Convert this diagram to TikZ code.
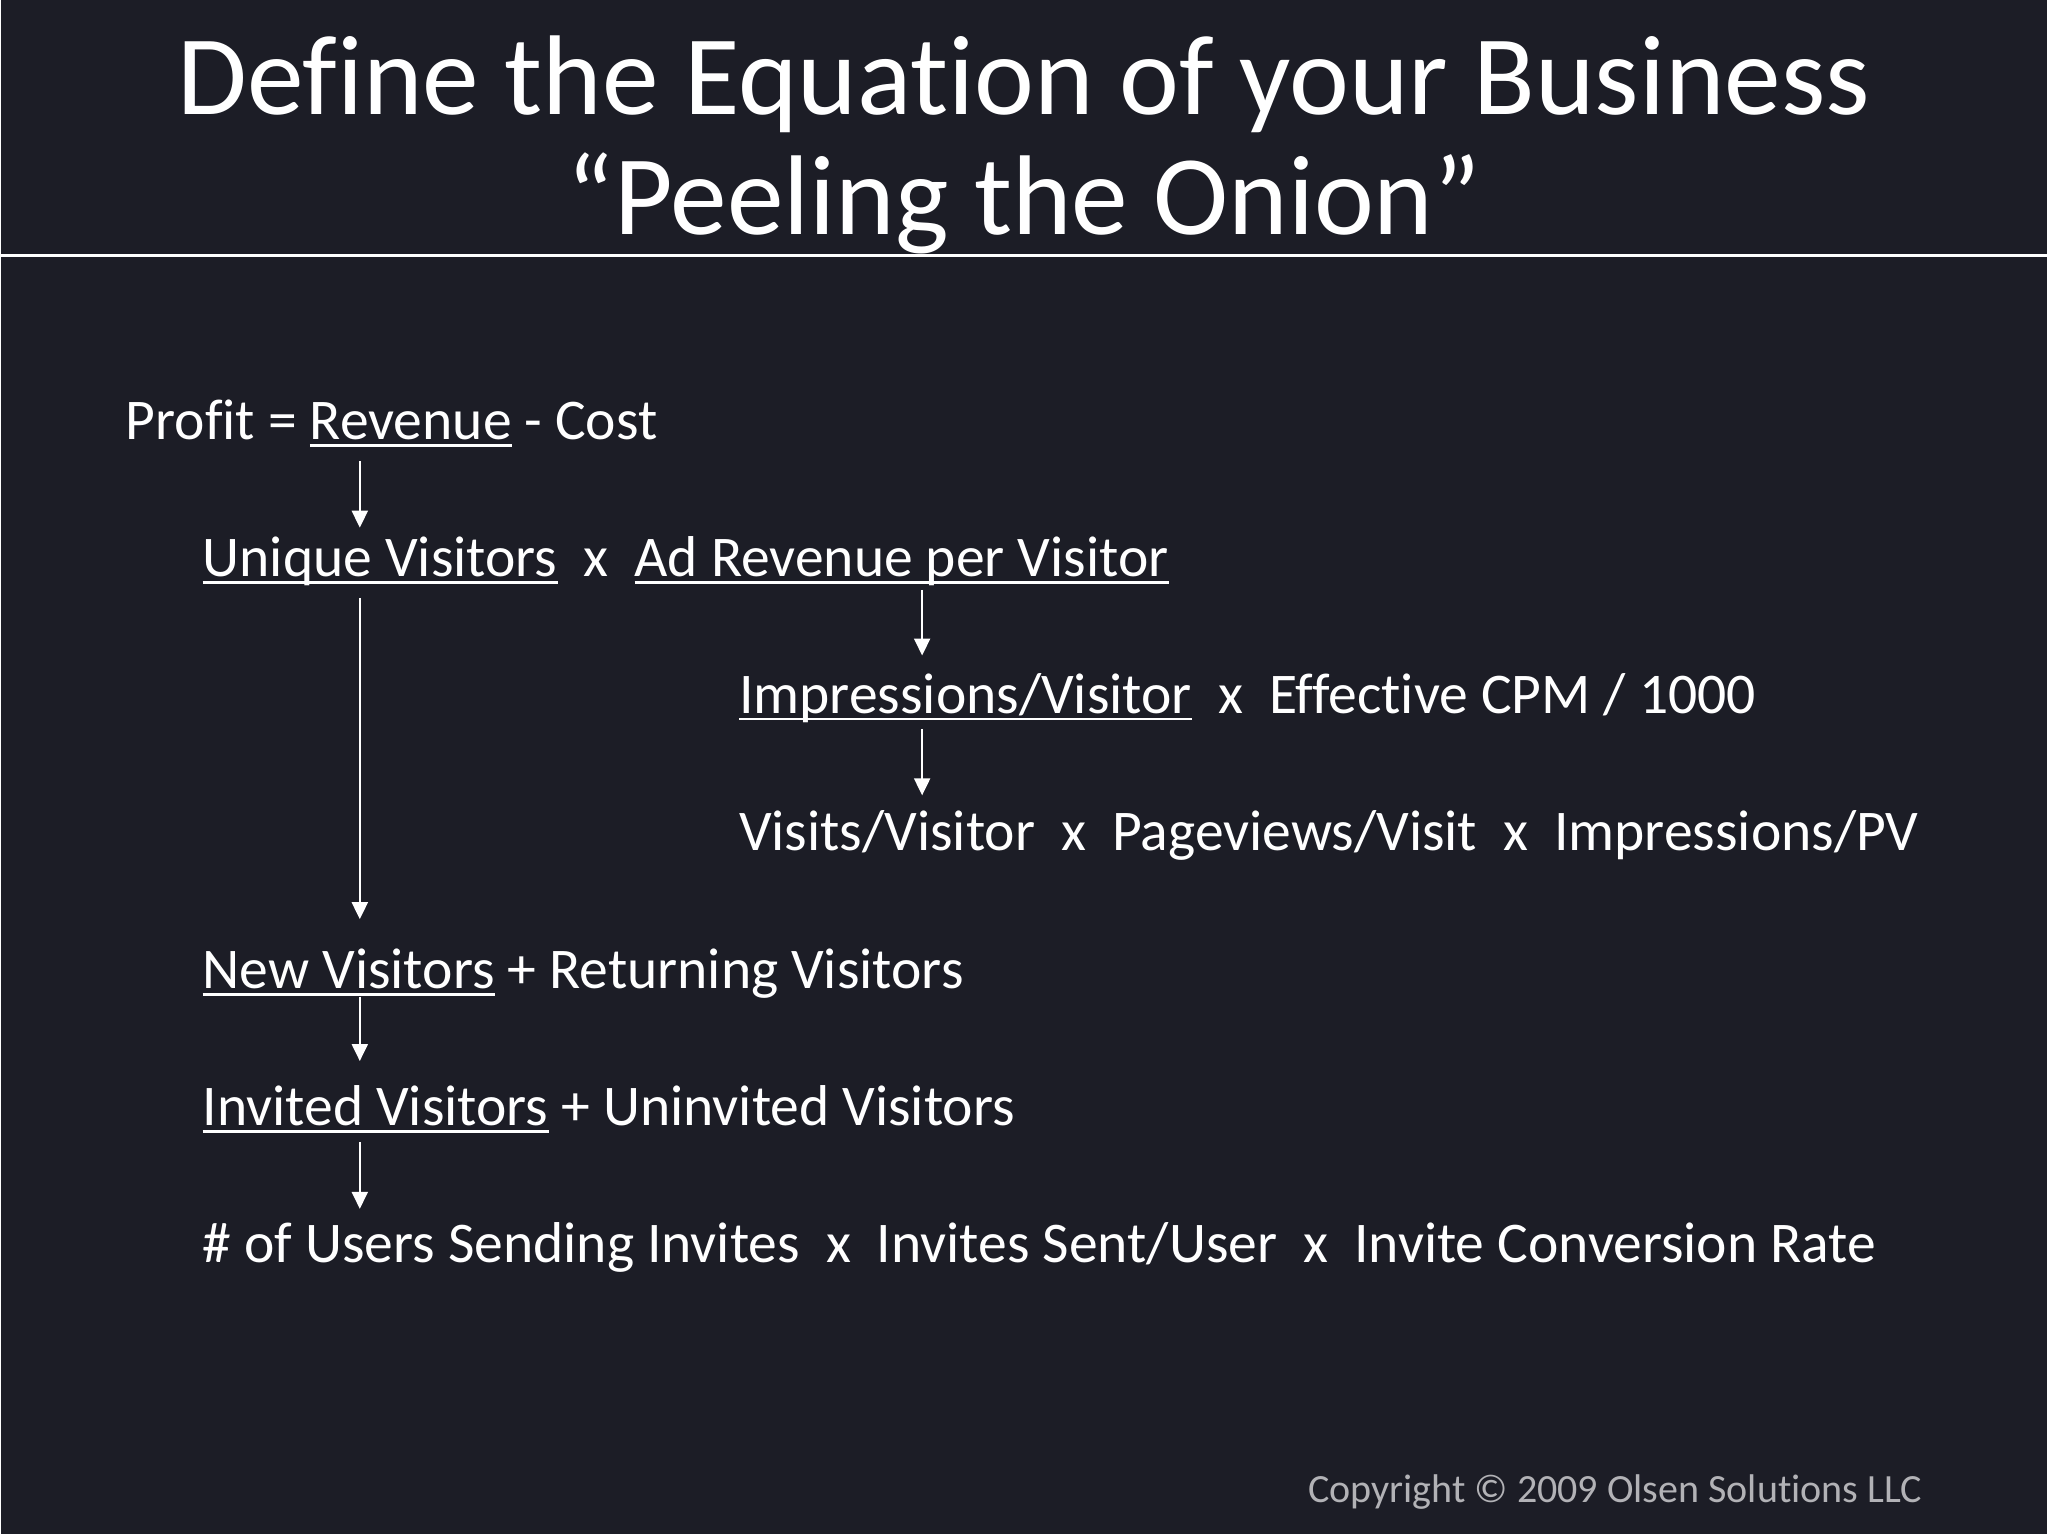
\documentclass[tikz,border=0pt]{standalone}
\usepackage{fontspec}
\setmainfont{Carlito}[Ligatures={NoCommon}]
\usetikzlibrary{arrows.meta}

\definecolor{slidebg}{RGB}{28,29,38}
\definecolor{copygray}{RGB}{178,178,182}

\newsavebox{\ulbox}
\newcommand{\ulword}[1]{\sbox{\ulbox}{#1}\rlap{\rule[-0.125em]{\wd\ulbox}{0.045em}}\usebox{\ulbox}}

\begin{document}
\begin{tikzpicture}[x=1cm,y=1cm,
  every node/.style={text=white, inner sep=0pt},
  title/.style={font=\fontsize{32.3pt}{38pt}\selectfont, anchor=base},
  eq/.style={font=\fontsize{16.4pt}{20pt}\selectfont, anchor=base west, text height=0.39cm, text depth=0.07cm},
  copy/.style={font=\fontsize{11.4pt}{13pt}\selectfont, anchor=base east, text=copygray},
  flow/.style={white, line width=0.6pt, -{Triangle[length=0.17cm,width=0.16cm]}}]
\fill[slidebg] (0,0) rectangle (20.48,-15.36);

\node[title] (T1) at (10.24,-1.15) {Define the Equation of your Business};
\node[title] (T2) at (10.24,-2.35) {“Peeling the Onion”};
\draw[white, line width=0.025cm] (0,-2.56) -- (20.48,-2.56);

\node[eq] (profit) at (1.24,-4.40) {Profit = \ulword{Revenue} - Cost};
\node[eq] (unique) at (2.01,-5.77) {\ulword{Unique Visitors}~~x~~\ulword{Ad Revenue per Visitor}};
\node[eq] (impr) at (7.38,-7.14) {\ulword{Impressions/Visitor}~~x~~Effective CPM / 1000};
\node[eq] (visits) at (7.38,-8.52) {Visits/Visitor~~x~~Pageviews/Visit~~x~~Impressions/PV};
\node[eq] (new) at (2.01,-9.90) {\ulword{New Visitors} + Returning Visitors};
\node[eq] (invited) at (2.01,-11.27) {\ulword{Invited Visitors} + Uninvited Visitors};
\node[eq] (users) at (2.01,-12.64) {\# of Users Sending Invites~~x~~Invites Sent/User~~x~~Invite Conversion Rate};
\node[copy] (copyright) at (19.24,-15.04) {Copyright © 2009 Olsen Solutions LLC};

\coordinate (colA) at (3.59,0);
\coordinate (colB) at (9.22,0);

\draw[flow, shorten <=0.14cm, shorten >=0.09cm] (profit.south -| colA) -- (unique.north -| colA);
\draw[flow, shorten <=0.14cm, shorten >=0.30cm] (unique.south -| colA) -- (new.north -| colA);
\draw[flow, shorten <=0.06cm, shorten >=0.18cm] (unique.south -| colB) -- (impr.north -| colB);
\draw[flow, shorten <=0.08cm, shorten >=0.16cm] (impr.south -| colB) -- (visits.north -| colB);
\draw[flow, shorten >=0.25cm] (new.south -| colA) -- (invited.north -| colA);
\draw[flow, shorten <=0.09cm, shorten >=0.14cm] (invited.south -| colA) -- (users.north -| colA);
\end{tikzpicture}
\end{document}
